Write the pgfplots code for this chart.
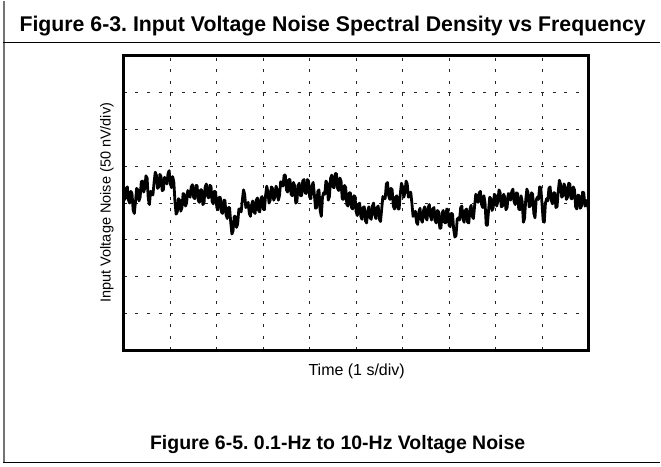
\documentclass[border=0pt]{standalone}
\usepackage{fontspec}
\setmainfont{Liberation Sans}
\usepackage{pgfplots}
\pgfplotsset{compat=1.18}
\frenchspacing
\begin{document}
\begin{tikzpicture}[x=1pt,y=1pt]
\path (0,0) rectangle (661,466);
% frame
\draw[black!55,line width=1.6pt] (4,466) -- (4,3.5);
\draw[black,line width=1.3pt] (3.2,3.5) -- (661,3.5);
\draw[black,line width=1.3pt] (3.2,424) -- (661,424);
\node[anchor=base,font=\fontsize{21.3}{24}\selectfont\bfseries] at (333,435) {Figure 6-3. Input Voltage Noise Spectral Density vs Frequency};
\node[anchor=base,font=\fontsize{19.5}{22}\selectfont\bfseries] at (338,17) {Figure 6-5. 0.1-Hz to 10-Hz Voltage Noise};
\begin{axis}[
  at={(124pt,116pt)}, anchor=south west,
  scale only axis, width=465pt, height=295pt,
  xmin=0, xmax=10, ymin=-200, ymax=200,
  xtick={1,2,...,9}, ytick={-150,-100,...,150},
  xticklabels={}, yticklabels={},
  major tick length=0pt,
  grid=major,
  major grid style={black!85, line width=0.9pt, dash pattern=on 3pt off 8.6pt},
  axis line style={black, line width=2.8pt},
  clip=true,
]
\addplot[black, line width=2.8pt, line join=round] coordinates {
(0.000,10) (0.025,5) (0.050,20) (0.075,22) (0.100,4) (0.125,0) (0.150,16) (0.175,13) (0.200,-10) (0.225,-14) (0.250,2) (0.275,20) (0.300,18) (0.325,3) (0.350,8) (0.375,29) (0.400,30) (0.425,15) (0.450,20) (0.475,37)
(0.500,34) (0.525,6) (0.550,-2) (0.575,16) (0.600,14) (0.625,11) (0.650,28) (0.675,42) (0.700,38) (0.725,20) (0.750,22) (0.775,39) (0.800,36) (0.825,17) (0.850,18) (0.875,35) (0.900,32) (0.925,26) (0.950,40) (0.975,44)
(1.000,26) (1.025,21) (1.050,36) (1.075,29) (1.100,2) (1.125,-15) (1.150,-12) (1.175,6) (1.200,4) (1.225,-11) (1.250,-6) (1.275,13) (1.300,12) (1.325,-4) (1.350,0) (1.375,17) (1.400,14) (1.425,8) (1.450,22) (1.475,25)
(1.500,8) (1.525,6) (1.550,24) (1.575,24) (1.600,4) (1.625,1) (1.650,18) (1.675,18) (1.700,-2) (1.725,0) (1.750,22) (1.775,26) (1.800,10) (1.825,7) (1.850,24) (1.875,23) (1.900,2) (1.925,-1) (1.950,16) (1.975,15)
(2.000,-6) (2.025,-9) (2.050,8) (2.075,8) (2.100,-12) (2.125,-14) (2.150,4) (2.175,4) (2.200,-16) (2.225,-21) (2.250,-6) (2.275,-6) (2.300,-26) (2.325,-42) (2.350,-38) (2.375,-18) (2.400,-18) (2.425,-33) (2.450,-28) (2.475,-8)
(2.500,-8) (2.525,-12) (2.550,4) (2.575,18) (2.600,12) (2.625,-6) (2.650,-4) (2.675,1) (2.700,-14) (2.725,-18) (2.750,-2) (2.775,3) (2.800,-12) (2.825,-14) (2.850,4) (2.875,7) (2.900,-10) (2.925,-12) (2.950,6) (2.975,9)
(3.000,-8) (3.025,-9) (3.050,10) (3.075,23) (3.100,16) (3.125,0) (3.150,4) (3.175,22) (3.200,20) (3.225,4) (3.250,8) (3.275,23) (3.300,18) (3.325,4) (3.350,10) (3.375,29) (3.400,28) (3.425,23) (3.450,38) (3.475,38)
(3.500,18) (3.525,15) (3.550,32) (3.575,32) (3.600,12) (3.625,10) (3.650,28) (3.675,24) (3.700,0) (3.725,2) (3.750,24) (3.775,27) (3.800,10) (3.825,10) (3.850,30) (3.875,32) (3.900,14) (3.925,13) (3.950,32) (3.975,30)
(4.000,8) (4.025,6) (4.050,24) (4.075,28) (4.100,12) (4.125,-7) (4.150,-6) (4.175,16) (4.200,18) (4.225,-10) (4.250,-18) (4.275,8) (4.300,14) (4.325,12) (4.350,30) (4.375,27) (4.400,4) (4.425,9) (4.450,34) (4.475,38)
(4.500,22) (4.525,21) (4.550,40) (4.575,40) (4.600,20) (4.625,17) (4.650,34) (4.675,30) (4.700,6) (4.725,5) (4.750,24) (4.775,21) (4.800,-2) (4.825,-4) (4.850,14) (4.875,14) (4.900,-6) (4.925,-8) (4.950,10) (4.975,9)
(5.000,-12) (5.025,-17) (5.050,-2) (5.075,0) (5.100,-18) (5.125,-22) (5.150,-6) (5.175,-5) (5.200,-24) (5.225,-27) (5.250,-10) (5.275,-5) (5.300,-20) (5.325,-22) (5.350,-4) (5.375,0) (5.400,-16) (5.425,-21) (5.450,-6) (5.475,-4)
(5.500,-22) (5.525,-25) (5.550,-8) (5.575,9) (5.600,6) (5.625,6) (5.650,26) (5.675,28) (5.700,10) (5.725,5) (5.750,20) (5.775,18) (5.800,-4) (5.825,-8) (5.850,8) (5.875,10) (5.900,-8) (5.925,-8) (5.950,12) (5.975,27)
(6.000,22) (6.025,8) (6.050,14) (6.075,30) (6.100,26) (6.125,8) (6.150,10) (6.175,15) (6.200,0) (6.225,-18) (6.250,-16) (6.275,-11) (6.300,-26) (6.325,-29) (6.350,-12) (6.375,-7) (6.400,-22) (6.425,-26) (6.450,-10) (6.475,-5)
(6.500,-20) (6.525,-23) (6.550,-6) (6.575,-2) (6.600,-18) (6.625,-23) (6.650,-8) (6.675,-6) (6.700,-24) (6.725,-27) (6.750,-10) (6.775,-12) (6.800,-34) (6.825,-34) (6.850,-14) (6.875,-10) (6.900,-26) (6.925,-27) (6.950,-8) (6.975,-9)
(7.000,-30) (7.025,-32) (7.050,-14) (7.075,-15) (7.100,-36) (7.125,-46) (7.150,-44) (7.175,-22) (7.200,-20) (7.225,-23) (7.250,-6) (7.275,-4) (7.300,-22) (7.325,-26) (7.350,-10) (7.375,-8) (7.400,-26) (7.425,-27) (7.450,-8) (7.475,-3)
(7.500,-18) (7.525,-21) (7.550,-4) (7.575,12) (7.600,8) (7.625,1) (7.650,14) (7.675,16) (7.700,-2) (7.725,-6) (7.750,10) (7.775,0) (7.800,-30) (7.825,-30) (7.850,-10) (7.875,8) (7.900,6) (7.925,-10) (7.950,-6) (7.975,12)
(8.000,10) (8.025,-4) (8.050,2) (8.075,18) (8.100,14) (8.125,-5) (8.150,-4) (8.175,12) (8.200,8) (8.225,-9) (8.250,-6) (8.275,13) (8.300,12) (8.325,4) (8.350,16) (8.375,19) (8.400,2) (8.425,-2) (8.450,14) (8.475,13)
(8.500,-8) (8.525,-9) (8.550,10) (8.575,2) (8.600,-26) (8.625,-21) (8.650,4) (8.675,19) (8.700,14) (8.725,-5) (8.750,-4) (8.775,14) (8.800,12) (8.825,-14) (8.850,-20) (8.875,4) (8.900,8) (8.925,5) (8.950,22) (8.975,21)
(9.000,0) (9.025,-23) (9.050,-26) (9.075,0) (9.100,6) (9.125,3) (9.150,20) (9.175,22) (9.200,4) (9.225,-1) (9.250,14) (9.275,14) (9.300,-6) (9.325,-5) (9.350,16) (9.375,31) (9.400,26) (9.425,8) (9.450,10) (9.475,26)
(9.500,22) (9.525,5) (9.550,8) (9.575,27) (9.600,26) (9.625,6) (9.650,6) (9.675,22) (9.700,18) (9.725,-5) (9.750,-8) (9.775,11) (9.800,10) (9.825,-7) (9.850,-4) (9.875,15) (9.900,14) (9.925,-4) (9.950,-2) (9.975,4)
(10.000,-10)
};
\end{axis}
\node[anchor=base,font=\fontsize{16}{18}\selectfont] at (357,91) {Time (1 s/div)};
\node[rotate=90,anchor=center,font=\fontsize{14.5}{17}\selectfont] at (107,264) {Input Voltage Noise (50 nV/div)};
\end{tikzpicture}
\end{document}
